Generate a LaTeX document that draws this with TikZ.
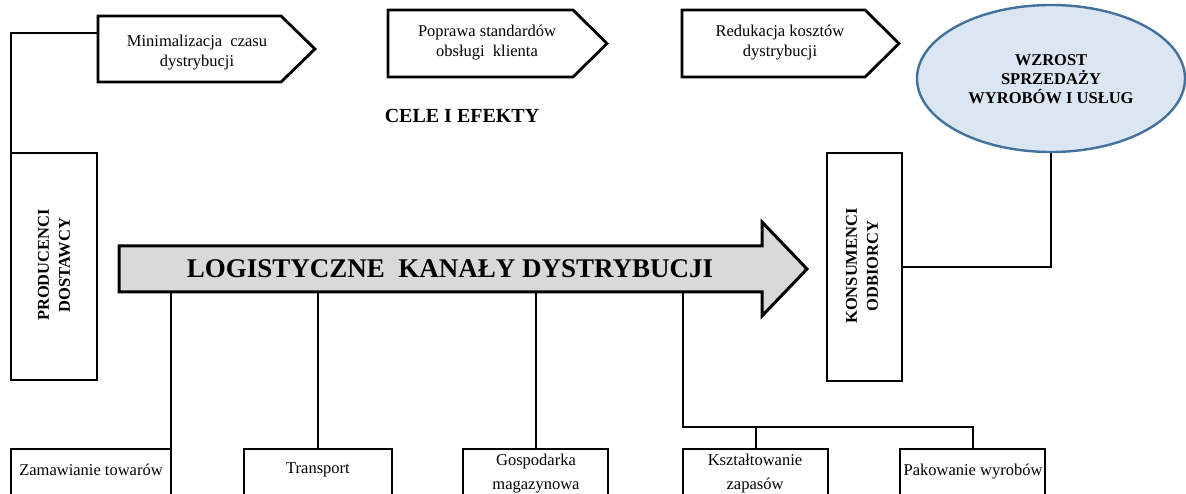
\documentclass[tikz,border=0pt]{standalone}
\usepackage{fontspec}
\setmainfont{Liberation Serif}
\usetikzlibrary{shapes.geometric,calc}
\definecolor{ellfill}{RGB}{220,230,242}
\definecolor{elledge}{RGB}{65,113,156}
\definecolor{arrowfill}{RGB}{217,217,217}
\begin{document}
\begin{tikzpicture}[x=1pt,y=-1pt,
  conn/.style={line width=2pt},
  goal/.style={line width=2.8pt, line join=miter},
  body/.style={inner sep=0pt, outer sep=0pt},
  boxed/.style={draw, line width=2pt, inner sep=0pt, outer sep=0pt},
  small/.style={font=\fontsize{16.5}{20}\selectfont, align=center, inner sep=0pt},
  lower/.style={font=\fontsize{16.5}{24}\selectfont, align=center, inner sep=0pt},
  heavy/.style={font=\fontsize{16.5}{20}\bfseries\selectfont, align=center, inner sep=0pt}]
\useasboundingbox (0,0) rectangle (1186,494);

% goal pentagons along the top
\node[body, minimum width=183pt, minimum height=66pt] (m1) at (189.5,49) {};
\node[body, minimum width=185pt, minimum height=67pt] (m2) at (480.5,43.5) {};
\node[body, minimum width=183pt, minimum height=67pt] (m3) at (773.5,43.5) {};
\foreach \g in {m1,m2,m3}{
  \draw[goal] (\g.north west) -- (\g.north east) -- ($(\g.east)+(34,0)$)
    -- (\g.south east) -- (\g.south west) -- cycle;
}
\node[small] (m1t) at (197,53) {Minimalizacja\ \ czasu\\dystrybucji};
\node[small] (m2t) at (487,42.5) {Poprawa standardów\\obsługi\ \ klienta};
\node[small] (m3t) at (780,42.5) {Redukacja kosztów\\dystrybucji};

\node[font=\fontsize{20}{24}\bfseries\selectfont, inner sep=0pt] (cel) at (462,116) {CELE I EFEKTY};

% sales-growth ellipse
\node[ellipse, draw=elledge, fill=ellfill, line width=2.4pt, inner sep=0pt,
  minimum width=268pt, minimum height=147pt] (el) at (1051,78.5) {};
\node[heavy, font=\fontsize{16.5}{19}\bfseries\selectfont] (elt) at (1051,79)
  {WZROST\\SPRZEDAŻY\\WYROBÓW I USŁUG};

% producers and consumers
\node[boxed, minimum width=86pt, minimum height=227pt] (pr) at (54,266.5) {};
\node[heavy, font=\fontsize{16.5}{21}\bfseries\selectfont, rotate=90] (prt) at (54,265)
  {PRODUCENCI\\DOSTAWCY};
\node[boxed, minimum width=75pt, minimum height=228pt] (kn) at (864.5,267) {};
\node[heavy, font=\fontsize{16.5}{21}\bfseries\selectfont, rotate=90] (knt) at (862,266)
  {KONSUMENCI\\ODBIORCY};

% main channel arrow
\node[body, minimum width=643pt, minimum height=46pt] (lk) at (440.5,269) {};
\draw[fill=arrowfill, line width=3pt, line join=miter]
  (lk.north west) -- (lk.north east) -- ($(lk.north east)+(0,-24)$)
  -- ($(lk.east)+(45,0)$) -- ($(lk.south east)+(0,24)$)
  -- (lk.south east) -- (lk.south west) -- cycle;
\node[font=\fontsize{27}{30}\bfseries\selectfont, inner sep=0pt] (lkt) at (450,269)
  {LOGISTYCZNE\ \ KANAŁY DYSTRYBUCJI};

% activity boxes along the bottom
\begin{scope}
\clip (0,0) rectangle (1186,494);
\node[boxed, anchor=north west, minimum width=160pt, minimum height=70pt] (zb) at (11,449) {};
\node[boxed, anchor=north west, minimum width=148pt, minimum height=70pt] (tr) at (244,449) {};
\node[boxed, anchor=north west, minimum width=145pt, minimum height=70pt] (gm) at (463,449) {};
\node[boxed, anchor=north west, minimum width=145pt, minimum height=70pt] (ks) at (683,449) {};
\node[boxed, anchor=north west, minimum width=145pt, minimum height=70pt] (pw) at (900,449) {};
\node[small] (zbt) at (91,470) {Zamawianie towarów};
\node[small] (trt) at (318,470) {Transport};
\node[lower] (gmt) at (536,474) {Gospodarka\\magazynowa};
\node[lower] (kst) at (755,474) {Kształtowanie\\zapasów};
\node[small] (pwt) at (973,472) {Pakowanie wyrobów};
\end{scope}

% connectors
\draw[conn] (pr.north west) |- ([yshift=16pt]m1.west);
\draw[conn] (el.south) |- (kn.east);
\draw[conn] (zb.north east) -- (zb.north east |- lk.south);
\draw[conn] (tr.north) -- (tr.north |- lk.south);
\draw[conn] (gm.north) -- (gm.north |- lk.south);
\coordinate (sp) at (683,427);
\draw[conn] (sp |- lk.south) -- (sp) -| (pw.north);
\draw[conn] (ks.north) -- (ks.north |- sp);
\end{tikzpicture}
\end{document}
